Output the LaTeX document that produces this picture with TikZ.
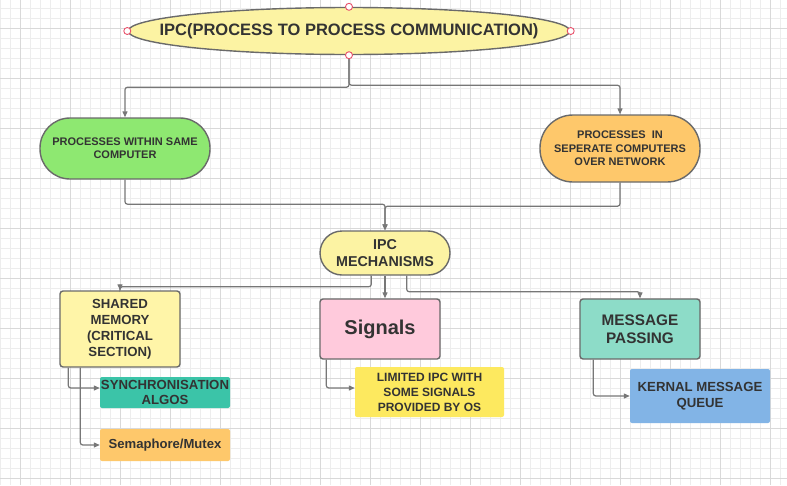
\documentclass[tikz,border=0pt]{standalone}
\usepackage{fontspec}
\setmainfont{Liberation Sans}
\usetikzlibrary{shapes.geometric,arrows.meta,calc}
\definecolor{gridfine}{HTML}{EDEDED}
\definecolor{gridmajor}{HTML}{D9D9D9}
\definecolor{bordergray}{HTML}{6A6A6A}
\definecolor{linegray}{HTML}{777777}
\definecolor{txt}{HTML}{333333}
\definecolor{paleyellow}{HTML}{FCF3A3}
\definecolor{memyellow}{HTML}{FFF5A8}
\definecolor{greenfill}{HTML}{8EE871}
\definecolor{orangefill}{HTML}{FEC86B}
\definecolor{tealfill}{HTML}{3BC4A8}
\definecolor{pinkfill}{HTML}{FFCADC}
\definecolor{yellowfill}{HTML}{FDE95F}
\definecolor{mintfill}{HTML}{8DDCC8}
\definecolor{bluefill}{HTML}{82B4E6}
\definecolor{handlered}{HTML}{E8506A}
\newcommand{\fsz}[2]{\bfseries\fontsize{#1}{#2}\selectfont}
\begin{document}
\begin{tikzpicture}[x=1pt,y=-1pt,
  gf/.style={draw=gridfine,line width=0.8pt},
  gm/.style={draw=gridmajor,line width=0.8pt},
  lbl/.style={text=txt,align=center,inner sep=0pt},
  bordered/.style={draw=bordergray,line width=1.4pt},
  stadium/.style={lbl,bordered,rectangle},
  boxed/.style={lbl,bordered,rectangle,rounded corners=3pt},
  plainbox/.style={lbl,rectangle,rounded corners=2pt},
  handle/.style={circle,draw=handlered,fill=white,line width=0.9pt,minimum size=7pt,inner sep=0pt},
  conn/.style={draw=linegray,line width=1.2pt,rounded corners=2.5pt,-{Triangle[length=6pt,width=5pt]}},
]
\useasboundingbox (0,0) rectangle (787,485);
\fill[white] (0,0) rectangle (787,485);
\foreach \i in {0,10,...,780} \draw[gf] (\i,0) -- (\i,485);
\foreach \j in {8,18,...,478} \draw[gf] (0,\j) -- (787,\j);
\foreach \i in {20,70,...,770} \draw[gm] (\i,0) -- (\i,485);
\foreach \j in {28,78,...,478} \draw[gm] (0,\j) -- (787,\j);

% nodes
\node[ellipse,lbl,bordered,fill=paleyellow,minimum width=442pt,minimum height=47pt,font=\fsz{16.5}{19}] (title) at (349,31)
  {\makebox[0pt]{IPC(PROCESS TO PROCESS COMMUNICATION)}};

\node[stadium,fill=greenfill,minimum width=170pt,minimum height=61pt,rounded corners=30pt,font=\fsz{11}{12.7}] (green) at (125,148.5)
  {PROCESSES WITHIN SAME\\COMPUTER};

\node[stadium,fill=orangefill,minimum width=160pt,minimum height=67pt,rounded corners=33pt,font=\fsz{11}{13.5}] (orange) at (620,148.5)
  {PROCESSES\ \ IN\\SEPERATE COMPUTERS\\OVER NETWORK};

\node[stadium,fill=paleyellow,minimum width=130pt,minimum height=44pt,rounded corners=22pt,font=\fsz{14.3}{17.5}] (mech) at (385,253)
  {IPC\\MECHANISMS};

\node[boxed,fill=memyellow,minimum width=120pt,minimum height=76pt,font=\fsz{13.2}{15.9}] (shm) at (120,329)
  {SHARED\\MEMORY\\(CRITICAL\\SECTION)};

\node[plainbox,fill=tealfill,minimum width=130pt,minimum height=31pt,font=\fsz{13.2}{15.7}] (sync) at (165,392.5)
  {SYNCHRONISATION\\ALGOS};

\node[plainbox,fill=orangefill,minimum width=130pt,minimum height=32pt,font=\fsz{13.1}{15.7}] (sema) at (165,445)
  {Semaphore/Mutex};

\node[boxed,fill=pinkfill,minimum width=120pt,minimum height=60pt,font=\fsz{20}{24}] (sig) at (380,329)
  {Signals};

\node[plainbox,fill=yellowfill,minimum width=149pt,minimum height=50pt,font=\fsz{12}{15}] (lim) at (429.5,392)
  {LIMITED IPC WITH\\SOME SIGNALS\\PROVIDED BY OS};

\node[boxed,fill=mintfill,minimum width=120pt,minimum height=60pt,font=\fsz{15.3}{18.3}] (msg) at (640,329)
  {MESSAGE\\PASSING};

\node[plainbox,fill=bluefill,minimum width=140pt,minimum height=54pt,font=\fsz{13.2}{16}] (kern) at (700,396)
  {KERNAL MESSAGE\\QUEUE};

% connectors
\draw[conn] (title.south) -- ++(0,32) -| (green.north);
\draw[conn] (title.south) -- ++(0,30) -| (orange.north);
\draw[conn] (green.south) -- ++(0,24.5) -| (mech.north);
\draw[conn] (orange.south) -- ++(0,23.5) -| (mech.north);
\draw[conn] ([xshift=52pt]mech.south west) -- ++(0,11) -| (shm.north);
\draw[conn] (mech.south) -- (mech.south |- sig.north);
\draw[conn] ([xshift=-44pt]mech.south east) -- ++(0,16) -| (msg.north);
\draw[conn] ([xshift=9pt]shm.south west) |- ([yshift=4.5pt]sync.west);
\draw[conn] ([xshift=21pt]shm.south west) |- (sema.west);
\draw[conn] ([xshift=7pt]sig.south west) |- ([yshift=4pt]lim.west);
\draw[conn] ([xshift=14pt]msg.south west) |- (kern.west);

% selection handles
\node[handle] (hn) at (title.north) {};
\node[handle] (hs) at (title.south) {};
\node[handle] (hw) at (title.west) {};
\node[handle] (he) at (title.east) {};
\end{tikzpicture}
\end{document}
